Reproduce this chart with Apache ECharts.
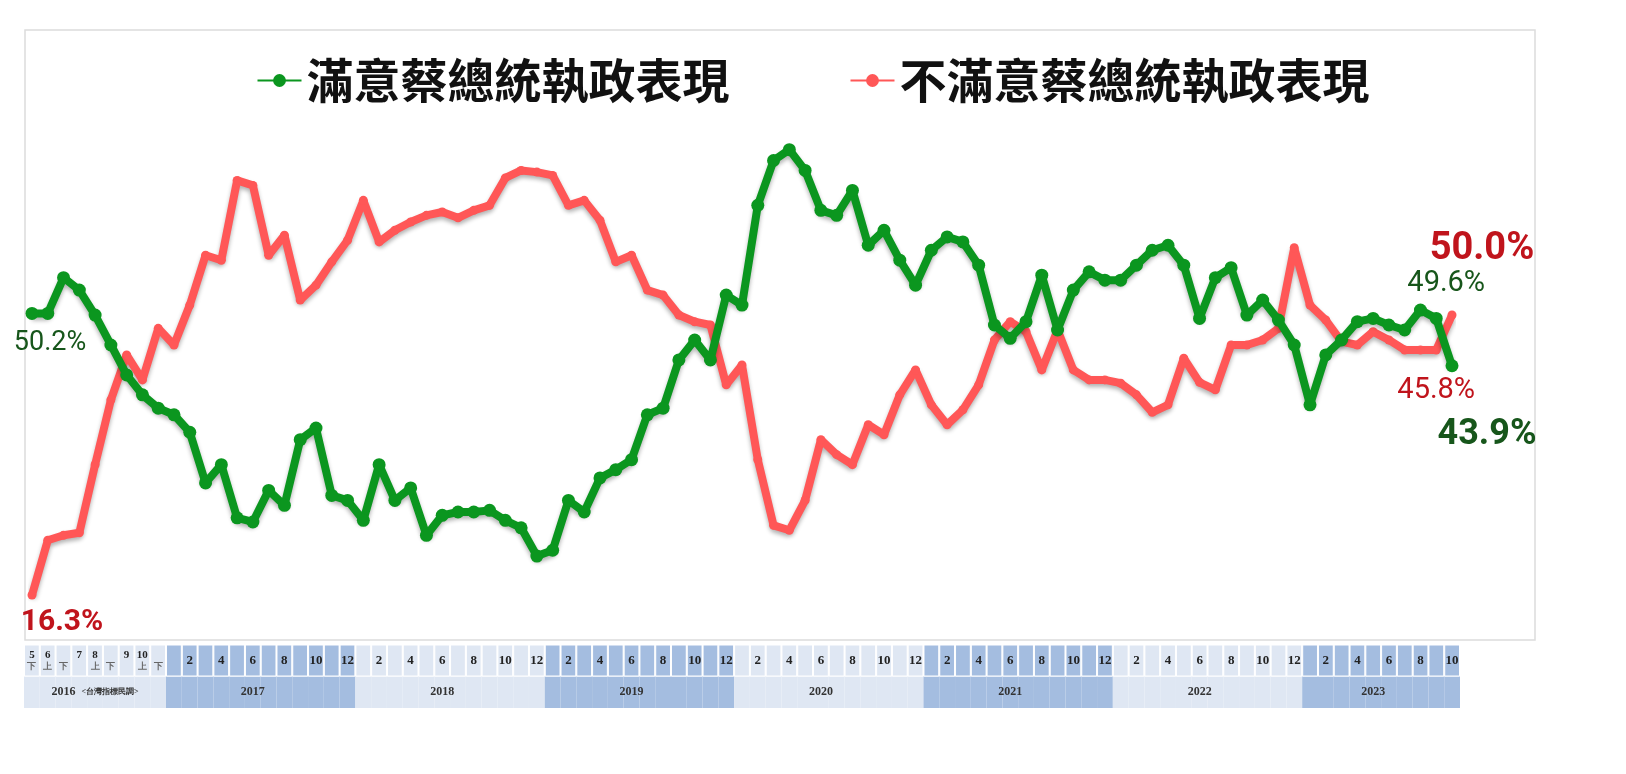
<!DOCTYPE html>
<html>
<head>
<meta charset="utf-8">
<script src="https://cdn.jsdelivr.net/npm/echarts@6/dist/echarts.min.js"></script>
<style>html,body{margin:0;padding:0;background:#fff}#main{width:1626px;height:774px}</style>
</head>
<body>
<div id="main"></div>
<script>
// survey waves: 2016 has half-month waves, then monthly from 2017/1 to 2023/10
const years = []
const monthLabels = []
const subLabels2016 = ['下', '上', '下', '', '上', '下', '', '上', '下']
const months2016 = ['5', '6', '', '7', '8', '', '9', '10', '']
months2016.forEach((m, i) => { years.push(2016); monthLabels.push('{s|' + (m || ' ') + '}\n{t|' + (subLabels2016[i] || ' ') + '}') })
for (let y = 2017; y <= 2023; y++) {
  const last = y === 2023 ? 10 : 12
  for (let m = 1; m <= last; m++) { years.push(y); monthLabels.push(m % 2 === 0 ? String(m) : '') }
}
const yearNames = ['2016', '2017', '2018', '2019', '2020', '2021', '2022', '2023']

const satisfied = [50.2, 50.2, 54.5, 53.0, 50.0, 46.4, 42.8, 40.4, 38.8, 38.0,
  35.9, 29.8, 32.0, 25.6, 25.1, 28.9, 27.1, 35.0, 36.4, 28.3, 27.7, 25.3,
  32.0, 27.7, 29.2, 23.5, 25.9, 26.3, 26.3, 26.5, 25.3, 24.4, 21.0, 21.7,
  27.7, 26.3, 30.4, 31.4, 32.6, 38.0, 38.8, 44.6, 47.0, 44.6, 52.4, 51.2,
  63.2, 68.6, 69.9, 67.4, 62.6, 62.0, 65.0, 58.4, 60.2, 56.6, 53.6, 57.8,
  59.4, 58.8, 56.0, 48.8, 47.2, 49.2, 54.8, 48.2, 53.0, 55.2, 54.2, 54.2,
  56.0, 57.8, 58.4, 56.0, 49.6, 54.5, 55.7, 50.0, 51.8, 49.4, 46.4, 39.2,
  45.2, 47.0, 49.2, 49.6, 48.8, 48.2, 50.6, 49.6, 43.9]
const dissatisfied = [16.3, 22.9, 23.5, 23.8, 32.0, 39.8, 45.2, 42.2, 48.4, 46.4,
  51.2, 57.2, 56.6, 66.2, 65.6, 57.2, 59.6, 51.8, 53.6, 56.4, 59.0, 63.8,
  58.8, 60.2, 61.2, 62.0, 62.4, 61.7, 62.6, 63.2, 66.5, 67.4, 67.2, 66.8,
  63.2, 63.8, 61.4, 56.4, 57.2, 53.0, 52.4, 50.0, 49.2, 48.8, 41.6, 44.0,
  32.6, 24.7, 24.1, 27.7, 35.0, 33.2, 32.0, 36.8, 35.6, 40.4, 43.4, 39.2,
  36.8, 38.6, 41.6, 47.0, 49.2, 48.0, 43.4, 48.2, 43.4, 42.2, 42.2, 41.8,
  40.4, 38.3, 39.2, 44.8, 41.9, 41.0, 46.4, 46.4, 47.0, 48.4, 58.1, 51.2,
  49.4, 46.8, 46.4, 48.0, 47.0, 45.8, 45.8, 45.8, 50.0]

const cats = monthLabels.map((m, i) => i)
const n = cats.length
const yearColor = y => (y % 2 === 1 ? '#a4bde0' : '#dfe7f3')

// start-point and end-point callouts
const greenDark = '#17561b'
const redDark = '#c0141c'
const callouts = {
  sat: {
    0: { position: 'bottom', distance: 10, dx: 18, fontSize: 27, color: greenDark, formatter: '50.2%' },
    [n - 2]: { position: 'top', distance: 14, dx: 10, fontSize: 29, color: greenDark, formatter: '49.6%' },
    [n - 1]: { position: 'bottom', distance: 45, dx: 35, fontSize: 36, fontWeight: 'bold', color: greenDark, formatter: '43.9%' }
  },
  dis: {
    0: { position: 'bottom', distance: 8, dx: 30, fontSize: 30, fontWeight: 'bold', color: redDark, formatter: '16.3%' },
    [n - 2]: { position: 'bottom', distance: 22, dx: 0, fontSize: 29, color: redDark, formatter: '45.8%' },
    [n - 1]: { position: 'top', distance: 42, dx: 30, fontSize: 38, fontWeight: 'bold', color: redDark, formatter: '50.0%' }
  }
}
const withLabels = (arr, key) => arr.map((v, i) =>
  callouts[key][i] ? { value: v, label: Object.assign({ show: true, fontFamily: 'Roboto' }, callouts[key][i]) } : v)
const layoutFor = key => p => ({ hideOverlap: false, moveOverlap: false, dx: (callouts[key][p.dataIndex] || {}).dx || 0 })

const yearMid = {}
yearNames.forEach(y => {
  const idx = years.map((yy, i) => (yy == y ? i : -1)).filter(i => i >= 0)
  yearMid[idx[Math.floor((idx.length - 1) / 2)]] = y === '2016' ? '2016  {s|<台灣指標民調>}' : y
})

const chart = echarts.init(document.getElementById('main'))
chart.setOption({
  animation: false,
  graphic: [{ type: 'rect', shape: { x: 25, y: 30, width: 1510, height: 610 }, style: { fill: 'none', stroke: '#dcdcdc', lineWidth: 1.5 }, z: -1 }],
  legend: {
    top: 52, left: 'center', itemGap: 120, itemWidth: 44, itemHeight: 16,
    textStyle: { fontSize: 47, fontWeight: 'bold', color: '#111', fontFamily: 'Noto Sans CJK TC' },
    data: ['滿意蔡總統執政表現', '不滿意蔡總統執政表現']
  },
  grid: [
    { left: 32, right: 174, top: 30, bottom: 134 },
    { left: 24, right: 166, top: 645, height: 63 }
  ],
  xAxis: [
    { gridIndex: 0, type: 'category', data: cats, boundaryGap: false, show: false },
    { gridIndex: 1, type: 'category', data: cats, show: false }
  ],
  yAxis: [
    { gridIndex: 0, type: 'value', min: 10.9, max: 84.3, show: false },
    { gridIndex: 1, type: 'value', min: 0, max: 2, show: false }
  ],
  series: [
    {
      name: '不滿意蔡總統執政表現', type: 'line', data: withLabels(dissatisfied, 'dis'),
      color: '#ff5757', lineStyle: { width: 8, shadowColor: 'rgba(0,0,0,0.3)', shadowBlur: 4, shadowOffsetY: 3 },
      symbol: 'circle', symbolSize: 9, showAllSymbol: true, z: 2, labelLayout: layoutFor('dis')
    },
    {
      name: '滿意蔡總統執政表現', type: 'line', data: withLabels(satisfied, 'sat'),
      color: '#0b961f', lineStyle: { width: 8, shadowColor: 'rgba(0,0,0,0.3)', shadowBlur: 4, shadowOffsetY: 3 },
      symbol: 'circle', symbolSize: 13, showAllSymbol: true, z: 3, labelLayout: layoutFor('sat')
    },
    {
      type: 'bar', xAxisIndex: 1, yAxisIndex: 1, stack: 't', barCategoryGap: 0, silent: true,
      data: cats.map(i => ({ value: 1, itemStyle: { color: yearColor(years[i]) } })),
      label: {
        show: true, position: 'inside', color: '#333', fontSize: 12, fontWeight: 'bold', fontFamily: 'Liberation Sans Narrow',
        formatter: p => yearMid[p.dataIndex] || '',
        rich: { s: { fontSize: 8, color: '#333' } }
      }
    },
    {
      type: 'bar', xAxisIndex: 1, yAxisIndex: 1, stack: 't', barCategoryGap: 0, silent: true,
      data: cats.map(i => ({ value: 1.15, itemStyle: { color: yearColor(years[i]), borderColor: '#fff', borderWidth: 1 } })),
      label: {
        show: true, position: 'inside', color: '#222', fontSize: 13, fontWeight: 'bold', lineHeight: 15,
        fontFamily: 'Liberation Sans Narrow',
        formatter: p => monthLabels[p.dataIndex],
        rich: {
          s: { fontSize: 11, fontWeight: 'bold', color: '#222', lineHeight: 13 },
          t: { fontSize: 9, color: '#666', lineHeight: 11 }
        }
      }
    }
  ]
})
</script>
</body>
</html>
